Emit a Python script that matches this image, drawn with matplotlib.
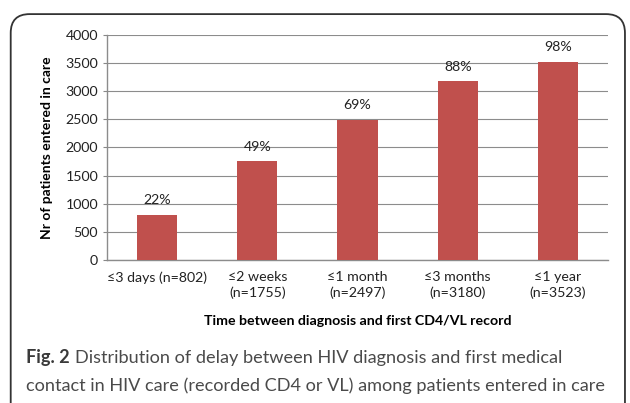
import matplotlib.pyplot as plt
from matplotlib.patches import FancyBboxPatch

categories = ["\u22643 days (n=802)", "\u22642 weeks\n(n=1755)", "\u22641 month\n(n=2497)",
              "\u22643 months\n(n=3180)", "\u22641 year\n(n=3523)"]
counts = [802, 1755, 2497, 3180, 3523]
pct_labels = ["22%", "49%", "69%", "88%", "98%"]
yticks = [0, 500, 1000, 1500, 2000, 2500, 3000, 3500, 4000]

plt.rcParams['font.family'] = ['Lato', 'DejaVu Sans']

fig = plt.figure(figsize=(6.3, 4.03), dpi=100)
ax = fig.add_axes([0.170, 0.355, 0.795, 0.558])

x = range(len(categories))
ax.bar(x, counts, width=0.4, color='#C0504D', zorder=3)
for xi, c, p in zip(x, counts, pct_labels):
    ax.text(xi, c + 150, p, ha='center', va='bottom', fontsize=10.2, color='#222222')

ax.set_ylim(0, 4000)
ax.set_xlim(-0.5, len(categories) - 0.5)
ax.set_yticks(yticks)
ax.set_xticks(list(x))
ax.set_xticklabels(categories, fontsize=10.2, color='#222222', linespacing=1.35)
ax.tick_params(axis='y', labelsize=10.2, labelcolor='#222222', length=3, color='#888888')
ax.tick_params(axis='x', length=0, pad=8)
ax.yaxis.grid(True, color='#8c8c8c', linewidth=0.8, zorder=0)
for s in ['top', 'right']:
    ax.spines[s].set_visible(False)
for s in ['left', 'bottom']:
    ax.spines[s].set_color('#8c8c8c')
    ax.spines[s].set_linewidth(1.0)

ax.set_ylabel("Nr of patients entered in care", fontsize=10, fontweight='bold', labelpad=9)
ax.set_xlabel("Time between diagnosis and first CD4/VL record", fontsize=10.2,
              fontweight='bold', labelpad=11)

# rounded border around the figure panel
box = FancyBboxPatch((0.017, -0.2), 0.975, 1.165, boxstyle="round,pad=0,rounding_size=0.03",
                     transform=fig.transFigure, fill=False, edgecolor='#333333',
                     linewidth=1.3, clip_on=False, mutation_aspect=1.56)
fig.patches.append(box)

# caption
cap_size = 13.1
t1 = fig.text(0.041, 0.099, "Fig. 2", fontsize=cap_size, fontweight='bold', color='#3a3a3a')
fig.canvas.draw()
bb = t1.get_window_extent().transformed(fig.transFigure.inverted())
fig.text(bb.x1 + 0.008, 0.099, "Distribution of delay between HIV diagnosis and first medical",
         fontsize=cap_size, color='#4a4a4a')
fig.text(0.041, 0.030, "contact in HIV care (recorded CD4 or VL) among patients entered in care",
         fontsize=cap_size, color='#4a4a4a')

fig.savefig('out.png', dpi=100)
